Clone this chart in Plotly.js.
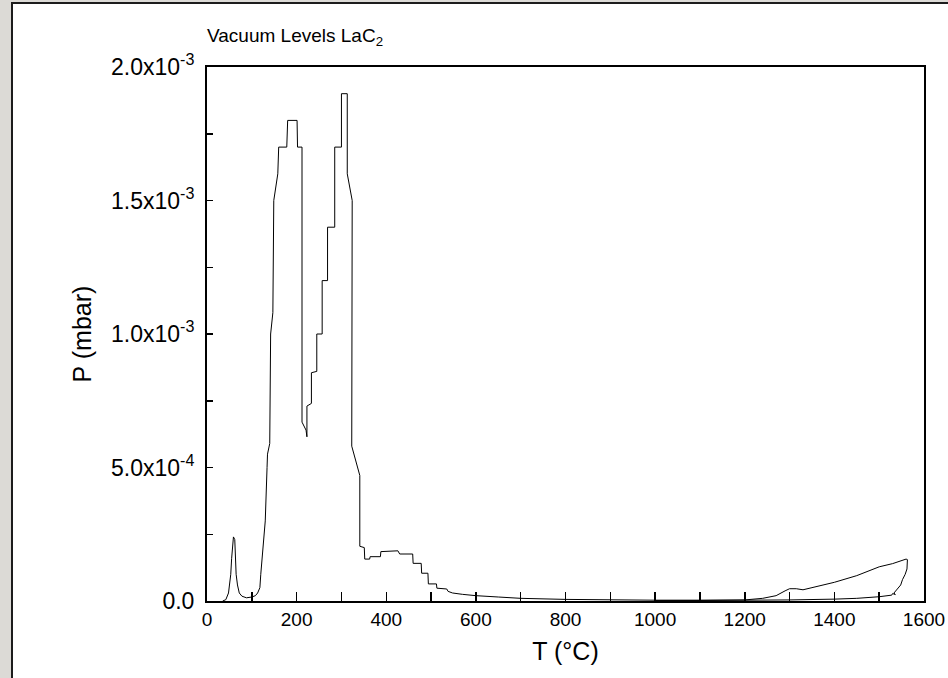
<!DOCTYPE html>
<html>
<head>
<meta charset="utf-8">
<script src="https://cdn.plot.ly/plotly-3.0.1.min.js"></script>
<style>
  html, body { margin: 0; padding: 0; background: #ffffff; }
  #wrap { position: relative; width: 948px; height: 678px; overflow: hidden; }
  #chart { position: absolute; left: 0; top: 0; width: 948px; height: 678px; }
  .fr { position: absolute; pointer-events: none; }
</style>
</head>
<body>
<div id="wrap">
  <div id="chart"></div>
  <div class="fr" style="left:0;top:0;width:11px;height:678px;background:#dcdad6;"></div>
  <div class="fr" style="left:0;top:0;width:948px;height:2px;background:#dcdad6;"></div>
  <div class="fr" style="left:11px;top:2px;width:2px;height:676px;background:#1c1c1c;"></div>
  <div class="fr" style="left:11px;top:2px;width:937px;height:2px;background:#1c1c1c;"></div>
</div>
<script>
// Temperature (°C) along the measured run (heating, then partial cooling)
const temperature = [
  35, 42, 48, 50, 53, 55, 57, 59, 62, 63, 65, 68, 72, 78, 88, 100, 108, 113, 118, 120,
  124, 126, 130, 134, 135, 140, 142, 147, 149, 158, 160, 178, 180, 201, 202, 212,
  212, 221, 223, 223, 233, 233, 245, 245, 257, 257, 269, 269, 285, 285, 300, 300,
  313, 313, 324, 323, 341, 341, 351, 352, 363, 364, 387, 388, 415, 426, 430, 459,
  460, 478, 479, 493, 494, 512, 513, 535, 538, 548, 570, 600, 650, 700, 800, 900,
  1000, 1100, 1200, 1240, 1270, 1290, 1300, 1315, 1330, 1350, 1400, 1450, 1500, 1530,
  1550, 1560, 1563, 1562, 1558, 1552, 1548, 1543, 1538, 1533, 1536, 1530, 1528, 1520,
  1500, 1450, 1400, 1300, 1200, 1100, 1000
];
// Pressure (mbar)
const pressure = [
  0.0, 0.005e-3, 0.03e-3, 0.06e-3, 0.10e-3, 0.16e-3, 0.20e-3, 0.24e-3, 0.23e-3, 0.17e-3,
  0.10e-3, 0.06e-3, 0.03e-3, 0.018e-3, 0.012e-3, 0.015e-3, 0.02e-3, 0.03e-3, 0.05e-3, 0.10e-3,
  0.18e-3, 0.25e-3, 0.30e-3, 0.50e-3, 0.55e-3, 0.59e-3, 1.00e-3, 1.08e-3, 1.50e-3, 1.60e-3,
  1.70e-3, 1.70e-3, 1.80e-3, 1.80e-3, 1.70e-3, 1.70e-3,
  0.67e-3, 0.64e-3, 0.615e-3, 0.73e-3, 0.74e-3, 0.855e-3, 0.86e-3, 1.00e-3, 1.00e-3, 1.20e-3,
  1.20e-3, 1.40e-3, 1.40e-3, 1.70e-3, 1.70e-3, 1.90e-3,
  1.90e-3, 1.60e-3, 1.50e-3, 0.58e-3, 0.47e-3, 0.205e-3, 0.20e-3, 0.157e-3, 0.157e-3, 0.166e-3,
  0.166e-3, 0.185e-3, 0.187e-3, 0.188e-3, 0.176e-3, 0.176e-3,
  0.141e-3, 0.141e-3, 0.104e-3, 0.104e-3, 0.064e-3, 0.064e-3, 0.048e-3, 0.045e-3, 0.036e-3, 0.030e-3,
  0.025e-3, 0.020e-3, 0.015e-3, 0.010e-3, 0.006e-3, 0.004e-3,
  0.003e-3, 0.003e-3, 0.004e-3, 0.010e-3, 0.020e-3, 0.038e-3, 0.046e-3, 0.046e-3, 0.042e-3, 0.050e-3,
  0.070e-3, 0.095e-3, 0.128e-3, 0.140e-3,
  0.150e-3, 0.157e-3, 0.155e-3, 0.120e-3, 0.100e-3, 0.080e-3, 0.060e-3, 0.050e-3, 0.036e-3, 0.030e-3,
  0.024e-3, 0.028e-3, 0.022e-3, 0.020e-3,
  0.016e-3, 0.010e-3, 0.007e-3, 0.004e-3, 0.002e-3, 0.002e-3, 0.002e-3
];
// Axis ticks
const yTickVals = [0, 5e-4, 1e-3, 1.5e-3, 2e-3];
const yTickText = ["0.0", "5.0x10<sup>-4</sup>", "1.0x10<sup>-3</sup>", "1.5x10<sup>-3</sup>", "2.0x10<sup>-3</sup>"];
const xTickVals = [0, 200, 400, 600, 800, 1000, 1200, 1400, 1600];
const xTickText = ["0", "200", "400", "600", "800", "1000", "1200", "1400", "1600"];

const FONT = "Liberation Sans, Arial, sans-serif";

const trace = {
  x: temperature,
  y: pressure,
  type: "scatter",
  mode: "lines",
  line: { color: "#000000", width: 1 },
  hoverinfo: "x+y"
};

const layout = {
  width: 948,
  height: 678,
  margin: { l: 207, r: 24, t: 67, b: 77 },
  paper_bgcolor: "#ffffff",
  plot_bgcolor: "#ffffff",
  showlegend: false,
  font: { family: FONT, color: "#000000", size: 18 },
  title: {
    text: "Vacuum Levels LaC<sub>2</sub>",
    font: { family: FONT, size: 19, color: "#000000" },
    xref: "paper", x: 0, xanchor: "left",
    yref: "container", y: 0.948, yanchor: "middle"
  },
  xaxis: {
    range: [0, 1600],
    tickmode: "array",
    tickvals: xTickVals,
    ticktext: xTickText,
    ticks: "inside",
    ticklen: 9,
    tickwidth: 1.5,
    tickcolor: "#000000",
    minor: { dtick: 100, ticks: "inside", ticklen: 9, tickwidth: 1.5, tickcolor: "#000000" },
    showgrid: false,
    zeroline: false,
    showline: true,
    linecolor: "#000000",
    linewidth: 2,
    mirror: true,
    ticklabelstandoff: 0,
    tickfont: { family: FONT, size: 19 },
    title: { text: "T (°C)", font: { family: FONT, size: 25 }, standoff: 14 }
  },
  yaxis: {
    range: [0, 2e-3],
    tickmode: "array",
    tickvals: yTickVals,
    ticktext: yTickText,
    ticks: "inside",
    ticklen: 6,
    tickwidth: 1.5,
    tickcolor: "#000000",
    minor: { tickvals: [2.5e-4, 7.5e-4, 1.25e-3, 1.75e-3], ticks: "inside", ticklen: 6, tickwidth: 1.5, tickcolor: "#000000" },
    showgrid: false,
    zeroline: false,
    showline: true,
    linecolor: "#000000",
    linewidth: 2,
    mirror: true,
    ticklabelstandoff: 6,
    tickfont: { family: FONT, size: 23 },
    title: { text: "P (mbar)", font: { family: FONT, size: 25 }, standoff: 12 }
  }
};

Plotly.newPlot("chart", [trace], layout, { displayModeBar: false, staticPlot: true });
</script>
</body>
</html>
